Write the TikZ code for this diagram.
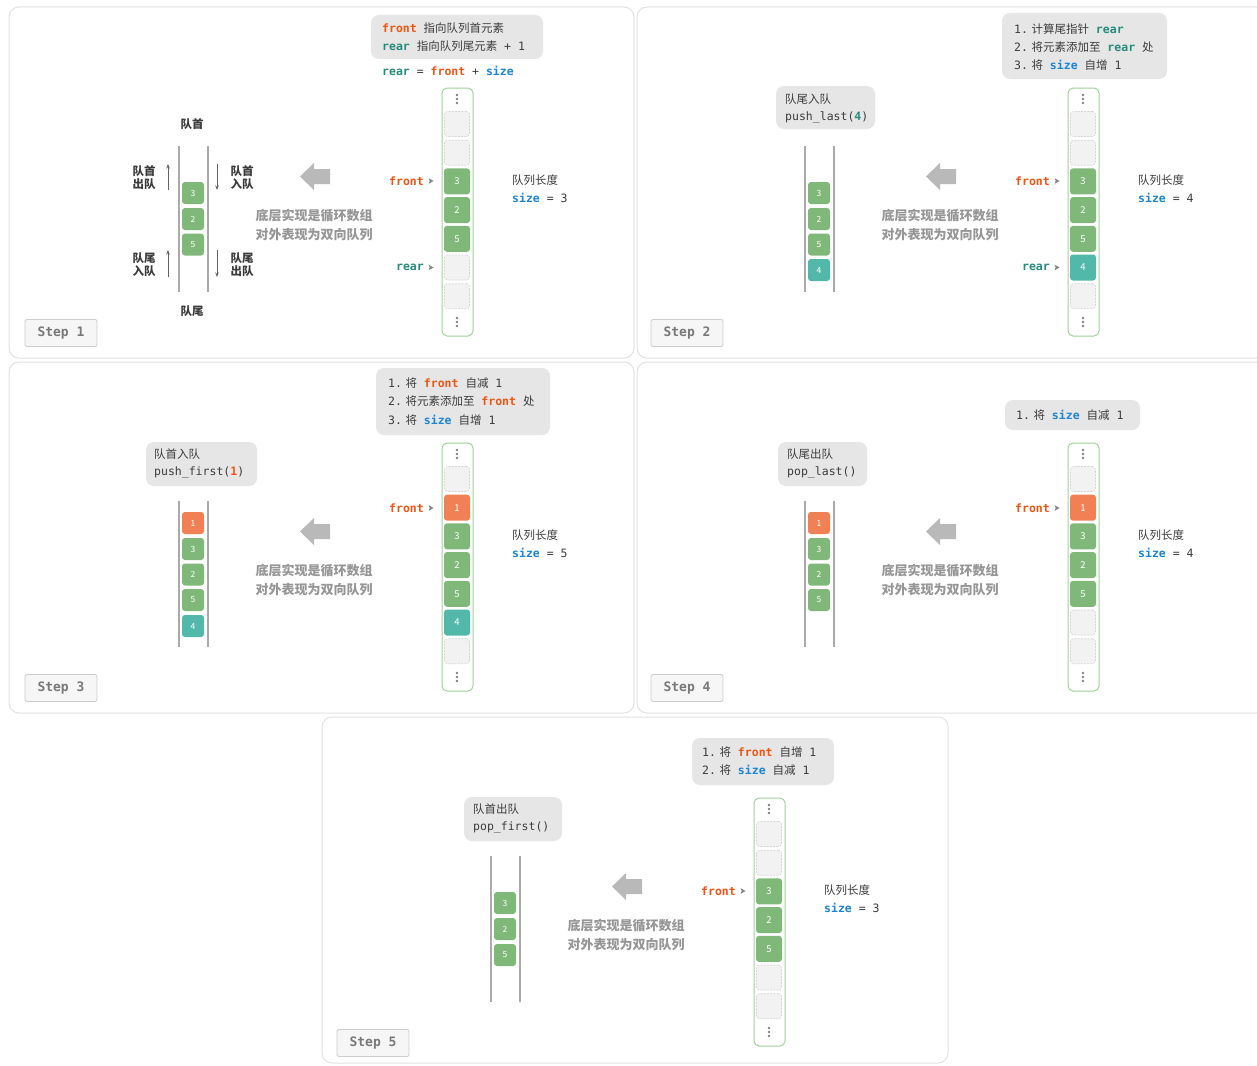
\documentclass[tikz,border=0pt]{standalone}
\usepackage{fontspec}
\setmainfont{Noto Sans CJK SC}
\newfontfamily\zhf{Noto Sans CJK SC}
\newfontfamily\monof{DejaVu Sans Mono}
\usetikzlibrary{arrows.meta}
\definecolor{cfront}{RGB}{240,84,18}
\definecolor{crear}{RGB}{36,140,122}
\definecolor{csize}{RGB}{26,132,214}
\definecolor{ctext}{RGB}{60,60,60}
\definecolor{cgreen}{RGB}{128,184,122}
\definecolor{corange}{RGB}{241,128,84}
\definecolor{cteal}{RGB}{82,184,170}
\definecolor{cframe}{RGB}{226,226,226}
\definecolor{cbox}{RGB}{230,230,230}
\definecolor{ccolb}{RGB}{160,210,155}
\definecolor{cempty}{RGB}{242,242,242}
\definecolor{cemptyb}{RGB}{212,212,212}
\definecolor{cbig}{RGB}{185,185,185}
\definecolor{ccap}{RGB}{150,150,150}
\definecolor{cline}{RGB}{170,170,170}
\definecolor{cstep}{RGB}{120,120,120}
\definecolor{cstepbg}{RGB}{246,246,246}
\definecolor{cstepb}{RGB}{205,205,205}
\definecolor{cdot}{RGB}{130,130,130}
\newcommand\zh[1]{{\zhf #1}}
\newcommand\kw[2]{{\bfseries\color{#1}#2}}
\newcommand\nsp{\hspace{3.5pt}}
\tikzset{
  panel/.style={draw=cframe, line width=1pt, rounded corners=10pt},
  mtext/.style={font=\monof\fontsize{11.5}{13}\selectfont, text=ctext, inner sep=0pt, anchor=west},
  infobox/.style={fill=cbox, rounded corners=8pt, inner sep=0pt},
  colbox/.style={draw=ccolb, line width=1pt, rounded corners=5pt, minimum width=31pt, minimum height=248pt, inner sep=0pt},
  cellbase/.style={minimum size=26pt, inner sep=0pt, rounded corners=3pt, text=white, font=\zhf\fontsize{9.5}{10}\selectfont},
  cellG/.style={cellbase, fill=cgreen},
  cellO/.style={cellbase, fill=corange},
  cellT/.style={cellbase, fill=cteal},
  cellE/.style={cellbase, fill=cempty, draw=cemptyb, line width=0.6pt, dash pattern=on 2pt off 1.2pt, minimum size=25pt},
  dqbase/.style={minimum size=22pt, inner sep=0pt, rounded corners=3pt, text=white, font=\zhf\fontsize{8.5}{9}\selectfont},
  dqG/.style={dqbase, fill=cgreen},
  dqO/.style={dqbase, fill=corange},
  dqT/.style={dqbase, fill=cteal},
  stepbox/.style={fill=cstepbg, draw=cstepb, line width=0.8pt, rounded corners=2pt, minimum width=72pt, minimum height=27pt, inner sep=0pt, text=cstep, font=\monof\bfseries\fontsize{13}{14}\selectfont},
  caption/.style={text=ccap, font=\zhf\bfseries\fontsize{13}{15}\selectfont, inner sep=0pt},
  sidelbl/.style={text=ctext, font=\zhf\bfseries\fontsize{11.5}{13}\selectfont, inner sep=0pt, align=center},
  sarrow/.style={draw=ctext!80, line width=0.9pt, -{Stealth[length=4.5pt,width=3.5pt]}},
  dqline/.style={draw=cline, line width=1.2pt},
}
% #1 prefix, #2 step, #3 size value, #4 column list, #5 deque list
\newcommand\common[5]{%
  \node[stepbox] (#1step) at (61,333) {Step #2};
  \node[colbox] (#1col) at (457.5,212) {};
  \foreach \d in {-4,0,4} {\fill[cdot] (457,99+\d) circle (1.3pt); \fill[cdot] (457,322+\d) circle (1.3pt);}
  \foreach \i/\s/\t in {#4} {\node[\s] (#1c\i) at (457,124+28.7*\i) {\t};}
  \node[mtext, font=\zhf\fontsize{11.5}{13}\selectfont] (#1len) at (512,180) {队列长度};
  \node[mtext] (#1size) at (512,198) {\kw{csize}{size} = #3};
  \fill[cbig] (300,176.5) -- (314,163) -- (314,169) -- (330,169) -- (330,184) -- (314,184) -- (314,190) -- cycle;
  \node[caption] (#1cap1) at (314,215.5) {底层实现是循环数组};
  \node[caption] (#1cap2) at (314,235) {对外表现为双向队列};
  \coordinate (#1la) at (179,146); \coordinate (#1lb) at (179,292);
  \coordinate (#1ra) at (208,146); \coordinate (#1rb) at (208,292);
  \draw[dqline] (#1la) -- (#1lb);
  \draw[dqline] (#1ra) -- (#1rb);
  \foreach \y/\s/\t in {#5} {\node[\s] (#1d\y) at (193,\y) {\t};}
}
% pointer: #1 name, #2 y, #3 colour, #4 text
\newcommand\ptr[4]{%
  \node[mtext, anchor=east, text=#3, font=\monof\bfseries\fontsize{11.5}{13}\selectfont] (#1) at (424,#2) {#4};
  \fill[cdot] (428.5,#2-2.8) -- (433.5,#2) -- (428.5,#2+2.8) -- (429.8,#2) -- cycle;
}
\begin{document}
\begin{tikzpicture}[x=1pt,y=-1pt]
\useasboundingbox[fill=white] (0,0) rectangle (1257,1065);
% frames
\draw[panel] (9,7) rectangle (634,358);
\draw[panel] (637,7) rectangle (1266,358);
\draw[panel] (9,362) rectangle (634,713);
\draw[panel] (637,362) rectangle (1266,713);
\draw[panel] (322,717) rectangle (948,1063);

% ---------------- Panel 1
\begin{scope}
  \node[infobox, minimum width=172pt, minimum height=44pt] (p1info) at (457,37) {};
  \node[mtext] (p1t1) at (382,28) {\kw{cfront}{front} \zh{指向队列首元素}};
  \node[mtext] (p1t2) at (382,46) {\kw{crear}{rear} \zh{指向队列尾元素} + 1};
  \node[mtext] (p1t3) at (382,71) {\kw{crear}{rear} = \kw{cfront}{front} + \kw{csize}{size}};
  \common{p1}{1}{3}{0/cellE/{},1/cellE/{},2/cellG/3,3/cellG/2,4/cellG/5,5/cellE/{},6/cellE/{}}{193/dqG/3,219/dqG/2,244.5/dqG/5}
  \ptr{p1front}{181}{cfront}{front}
  \ptr{p1rear}{267.5}{crear}{rear}
  \node[sidelbl] (p1head) at (192,124) {队首};
  \node[sidelbl] (p1tail) at (192,311) {队尾};
  \node[sidelbl] (p1l1) at (144,177.5) {队首\\出队};
  \node[sidelbl] (p1l2) at (144,264.5) {队尾\\入队};
  \node[sidelbl] (p1r1) at (242,177.5) {队首\\入队};
  \node[sidelbl] (p1r2) at (242,264.5) {队尾\\出队};
  \coordinate (p1u1a) at (168,190); \coordinate (p1u1b) at (168,164);
  \coordinate (p1u2a) at (168,277); \coordinate (p1u2b) at (168,250);
  \coordinate (p1d1a) at (217,164); \coordinate (p1d1b) at (217,190);
  \coordinate (p1d2a) at (217,250); \coordinate (p1d2b) at (217,277);
  \draw[sarrow] (p1u1a) -- (p1u1b);
  \draw[sarrow] (p1u2a) -- (p1u2b);
  \draw[sarrow] (p1d1a) -- (p1d1b);
  \draw[sarrow] (p1d2a) -- (p1d2b);
\end{scope}

% ---------------- Panel 2
\begin{scope}[shift={(626,0)}]
  \node[infobox, minimum width=165pt, minimum height=66pt] (p2info) at (458.5,46) {};
  \node[mtext] (p2t1) at (388,29) {1.\nsp\zh{计算尾指针} \kw{crear}{rear}};
  \node[mtext] (p2t2) at (388,47) {2.\nsp\zh{将元素添加至} \kw{crear}{rear} \zh{处}};
  \node[mtext] (p2t3) at (388,65) {3.\nsp\zh{将} \kw{csize}{size} \zh{自增} 1};
  \node[infobox, minimum width=99pt, minimum height=43pt] (p2op) at (199.5,107.5) {};
  \node[mtext] (p2o1) at (159,99) {\zh{队尾入队}};
  \node[mtext] (p2o2) at (159,117) {push\_last(\kw{crear}{4})};
  \common{p2}{2}{4}{0/cellE/{},1/cellE/{},2/cellG/3,3/cellG/2,4/cellG/5,5/cellT/4,6/cellE/{}}{193/dqG/3,219/dqG/2,244.5/dqG/5,270/dqT/4}
  \ptr{p2front}{181}{cfront}{front}
  \ptr{p2rear}{267.5}{crear}{rear}
\end{scope}

% ---------------- Panel 3
\begin{scope}[shift={(0,355)}]
  \node[infobox, minimum width=174pt, minimum height=67pt] (p3info) at (463,46.5) {};
  \node[mtext] (p3t1) at (388,28) {1.\nsp\zh{将} \kw{cfront}{front} \zh{自减} 1};
  \node[mtext] (p3t2) at (388,46.5) {2.\nsp\zh{将元素添加至} \kw{cfront}{front} \zh{处}};
  \node[mtext] (p3t3) at (388,65) {3.\nsp\zh{将} \kw{csize}{size} \zh{自增} 1};
  \node[infobox, minimum width=111pt, minimum height=44pt] (p3op) at (201.5,109) {};
  \node[mtext] (p3o1) at (154,99.5) {\zh{队首入队}};
  \node[mtext] (p3o2) at (154,117.5) {push\_first(\kw{cfront}{1})};
  \common{p3}{3}{5}{0/cellE/{},1/cellO/1,2/cellG/3,3/cellG/2,4/cellG/5,5/cellT/4,6/cellE/{}}{168/dqO/1,194/dqG/3,219.5/dqG/2,245/dqG/5,271/dqT/4}
  \ptr{p3front}{153}{cfront}{front}
\end{scope}

% ---------------- Panel 4
\begin{scope}[shift={(626,355)}]
  \node[infobox, minimum width=135pt, minimum height=30pt] (p4info) at (446.5,60) {};
  \node[mtext] (p4t1) at (390,60) {1.\nsp\zh{将} \kw{csize}{size} \zh{自减} 1};
  \node[infobox, minimum width=89pt, minimum height=44pt] (p4op) at (196.5,109) {};
  \node[mtext] (p4o1) at (161,99.5) {\zh{队尾出队}};
  \node[mtext] (p4o2) at (161,117.5) {pop\_last()};
  \common{p4}{4}{4}{0/cellE/{},1/cellO/1,2/cellG/3,3/cellG/2,4/cellG/5,5/cellE/{},6/cellE/{}}{168/dqO/1,194/dqG/3,219.5/dqG/2,245/dqG/5}
  \ptr{p4front}{153}{cfront}{front}
\end{scope}

% ---------------- Panel 5
\begin{scope}[shift={(312,710)}]
  \node[infobox, minimum width=142pt, minimum height=47pt] (p5info) at (451,51.5) {};
  \node[mtext] (p5t1) at (390,42) {1.\nsp\zh{将} \kw{cfront}{front} \zh{自增} 1};
  \node[mtext] (p5t2) at (390,60.5) {2.\nsp\zh{将} \kw{csize}{size} \zh{自减} 1};
  \node[infobox, minimum width=98pt, minimum height=44pt] (p5op) at (201,109) {};
  \node[mtext] (p5o1) at (161,99.5) {\zh{队首出队}};
  \node[mtext] (p5o2) at (161,117.5) {pop\_first()};
  \common{p5}{5}{3}{0/cellE/{},1/cellE/{},2/cellG/3,3/cellG/2,4/cellG/5,5/cellE/{},6/cellE/{}}{193/dqG/3,219/dqG/2,245/dqG/5}
  \ptr{p5front}{181}{cfront}{front}
\end{scope}
\end{tikzpicture}
\end{document}
